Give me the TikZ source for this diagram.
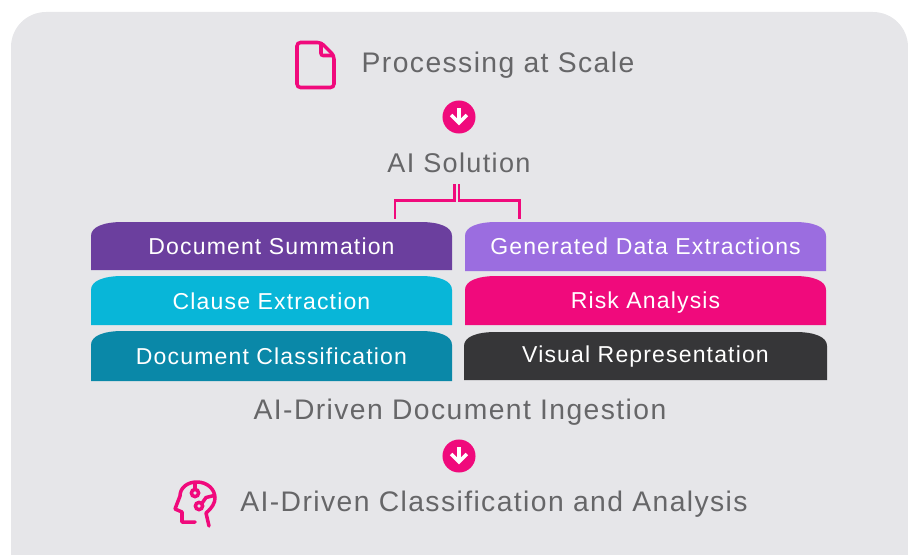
\documentclass[tikz,border=0pt]{standalone}
\usepackage{fontspec}
\setmainfont[LetterSpace=5]{Liberation Sans}
\usetikzlibrary{arrows.meta}
\definecolor{panelgrey}{HTML}{E6E6E9}
\definecolor{accentpink}{HTML}{F00A7C}
\definecolor{headgrey}{HTML}{666668}
\definecolor{sumpurple}{HTML}{6B3F9E}
\definecolor{genpurple}{HTML}{9B6DE0}
\definecolor{clausecyan}{HTML}{08B6D8}
\definecolor{classteal}{HTML}{0A88A8}
\definecolor{visualdark}{HTML}{363638}
\tikzset{
    headline/.style={anchor=base,text=headgrey,font=\fontsize{16.1}{18}\selectfont},
    tablabel/.style={anchor=base,text=white,font=\fontsize{13.1}{15}\selectfont},
    pinkline/.style={draw=accentpink,line width=2pt},
    bracketline/.style={draw=accentpink,line width=1.4pt},
    downdot/.style={circle,fill=accentpink,minimum size=18.8pt,inner sep=0pt},
}
\begin{document}
\begin{tikzpicture}[x=0.02cm,y=-0.02cm]
        \useasboundingbox (0,0) rectangle (908,554);
        \clip (0,0) rectangle (908,554);
        \fill[panelgrey,rounded corners=0.7cm] (11,12) rectangle (908,590);

        % tabs
        \foreach \xa/\ya/\xb/\yb/\base/\col/\nm/\txt in
        {91/222/452/270/254/sumpurple/summation/Document Summation,
         91/276/452/325/309/clausecyan/clause/Clause Extraction,
         91/331/452/381/364/classteal/classification/Document Classification,
         465/222/826/271/254/genpurple/generated/Generated Data Extractions,
         465/276/826/325/308/accentpink/risk/Risk Analysis,
         464/332/827/380/362/visualdark/visual/Visual Representation}
        {
            \fill[\col] (\xa,\yb) -- (\xa,\ya+14) .. controls (\xa,\ya+5) and (\xa+12,\ya) .. (\xa+32,\ya)
                -- (\xb-32,\ya) .. controls (\xb-12,\ya) and (\xb,\ya+5) .. (\xb,\ya+14) -- (\xb,\yb) -- cycle;
            \node[tablabel] (\nm) at ({(\xa+\xb)/2},\base) {\txt};
        };

        % headings
        \node[headline] (scale) at (498,72.5) {Processing at Scale};
        \node[headline,font=\fontsize{15.4}{18}\selectfont] (solution) at (459,172) {AI Solution};
        \node[headline] (ingestion) at (460,419) {AI-Driven Document Ingestion};
        \node[headline] (analysis) at (494,511) {AI-Driven Classification and Analysis};

        % arrows
        \node[downdot] (dotA) at (459,117) {};
        \node[downdot] (dotB) at (459,456) {};
        \foreach \v in {dotA,dotB}
        {
            \draw[white,line width=2pt,-{Straight Barb[length=4.5pt,width=9pt,line width=2pt]}] ([yshift=5pt]\v.center) -- ([yshift=-4.8pt]\v.center);
        };

        % bracket
        \coordinate (brL) at (395.2,219);
        \coordinate (brR) at (519.7,219);
        \coordinate (brTopL) at (454.7,184);
        \coordinate (brTopR) at (458.9,184);
        \draw[bracketline] (brTopL) -- (454.7,200.3) -- (395.2,200.3) -- (brL);
        \draw[bracketline] (brTopR) -- (458.9,200.3) -- (519.7,200.3) -- (brR);

        % document icon
        \draw[pinkline,rounded corners=2pt] (321,42.5) -- (297,42.5) -- (297,87.5) -- (334,87.5) -- (334,55.5) -- cycle;
        \draw[pinkline,rounded corners=1.2pt] (321,42.5) -- (321,55.5) -- (334,55.5);

        % head icon
        \draw[pinkline,line cap=round,line join=round] (209,526) -- (206,513) .. controls (212,508) and (215,503) .. (215,498)
            .. controls (215,489) and (207,482) .. (197,482) .. controls (187,482) and (180,488) .. (180,496)
            -- (175,509) -- (182,512) -- (182,522) -- (195,522);
        \draw[pinkline] (195,493) circle (3.6);
        \draw[pinkline] (195,482) -- (195,489.4);
        \draw[pinkline] (199,506) circle (3.6);
        \draw[pinkline,line join=round] (201.8,503.5) -- (206,497.5) -- (214,495.5);
    \end{tikzpicture}
\end{document}
